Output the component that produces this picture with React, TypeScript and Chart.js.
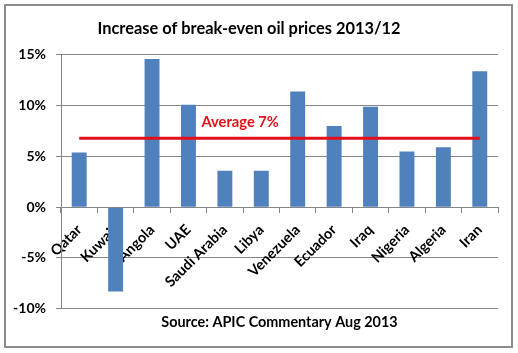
import React, { useEffect, useRef } from "react";
import { Chart, registerables } from "chart.js";

Chart.register(...registerables);

const titleText = "Increase of break-even oil prices 2013/12";
const sourceText = "Source: APIC Commentary Aug 2013";
const categories = ["Qatar", "Kuwait", "Angola", "UAE", "Saudi Arabia", "Libya", "Venezuela", "Ecuador", "Iraq", "Nigeria", "Algeria", "Iran"];
const increases = [5.4, -8.3, 14.6, 10.1, 3.6, 3.6, 11.4, 8.0, 9.9, 5.5, 5.9, 13.4];
const averageValue = 6.8;
const averageLabel = "Average 7%";
const yTicks = [-10, -5, 0, 5, 10, 15];

const FONT = "Lato, 'Open Sans', sans-serif";

const averageLabelPlugin = {
  id: "averageLabel",
  afterDatasetsDraw(chart: any) {
    const { ctx, chartArea, scales } = chart;
    const y = scales.y.getPixelForValue(averageValue) - 15.5;
    const x = chartArea.left + (chartArea.right - chartArea.left) * 0.41;
    ctx.save();
    ctx.font = `bold 14.7px ${FONT}`;
    ctx.fillStyle = "#e3101a";
    ctx.textAlign = "center";
    ctx.textBaseline = "middle";
    ctx.fillText(averageLabel, x, y);
    ctx.restore();
  },
};

export default function App() {
  const ref = useRef<HTMLCanvasElement>(null);
  useEffect(() => {
    if (!ref.current) return;
    const chart = new Chart(ref.current, {
      type: "bar",
      data: {
        labels: categories,
        datasets: [
          {
            type: "line",
            data: categories.map(() => averageValue),
            borderColor: "#e3101a",
            borderWidth: 3,
            pointRadius: 0,
            order: 0,
          } as any,
          {
            type: "bar",
            data: increases,
            backgroundColor: "#4f81bd",
            categoryPercentage: 1,
            barPercentage: 0.41,
            order: 1,
          },
        ],
      },
      options: {
        responsive: false,
        animation: false,
        layout: { padding: { left: 0, right: 20, top: 0, bottom: 16 } },
        plugins: {
          legend: { display: false },
          tooltip: { enabled: false },
          title: {
            display: true,
            text: titleText,
            color: "#000",
            font: { family: FONT, size: 16.4, weight: "bold" },
            padding: { top: 18.5, bottom: 16.8 },
          },
          subtitle: {
            display: true,
            text: sourceText,
            position: "bottom",
            fullSize: false,
            color: "#000",
            font: { family: FONT, size: 14.4, weight: "bold" },
            padding: { top: 5, bottom: 6 },
          },
        },
        scales: {
          x: {
            position: { y: 0 } as any,
            grid: {
              display: true,
              drawOnChartArea: false,
              drawTicks: true,
              tickLength: 5,
              color: "#868686",
              offset: true,
            },
            border: { display: true, color: "#868686" },
            ticks: {
              color: "#000",
              font: { family: FONT, size: 14.5, weight: "bold" },
              minRotation: 45,
              maxRotation: 45,
              autoSkip: false,
              padding: 9,
            },
          },
          y: {
            min: -10,
            max: 15,
            afterBuildTicks: (scale: any) => {
              scale.ticks = yTicks.map((v) => ({ value: v }));
            },
            afterFit: (scale: any) => {
              scale.width = 61;
            },
            grid: { color: "#868686", tickLength: 5, drawTicks: true },
            border: { display: true, color: "#868686" },
            ticks: {
              color: "#000",
              font: { family: FONT, size: 14, weight: "bold" },
              padding: 10,
              callback: (v: any) => `${v}%`,
            },
          },
        },
      },
      plugins: [averageLabelPlugin],
    });
    return () => chart.destroy();
  }, []);
  return (
    <div style={{ position: "absolute", left: 0, top: 0, width: 518, height: 353, background: "#fff" }}>
      <canvas ref={ref} width={518} height={353} style={{ position: "absolute", left: 0, top: 0 }} />
      <div
        style={{
          position: "absolute",
          left: 4,
          top: 4,
          width: 509,
          height: 344,
          border: "2px solid #8c8c8c",
          boxSizing: "border-box",
          pointerEvents: "none",
        }}
      />
    </div>
  );
}
